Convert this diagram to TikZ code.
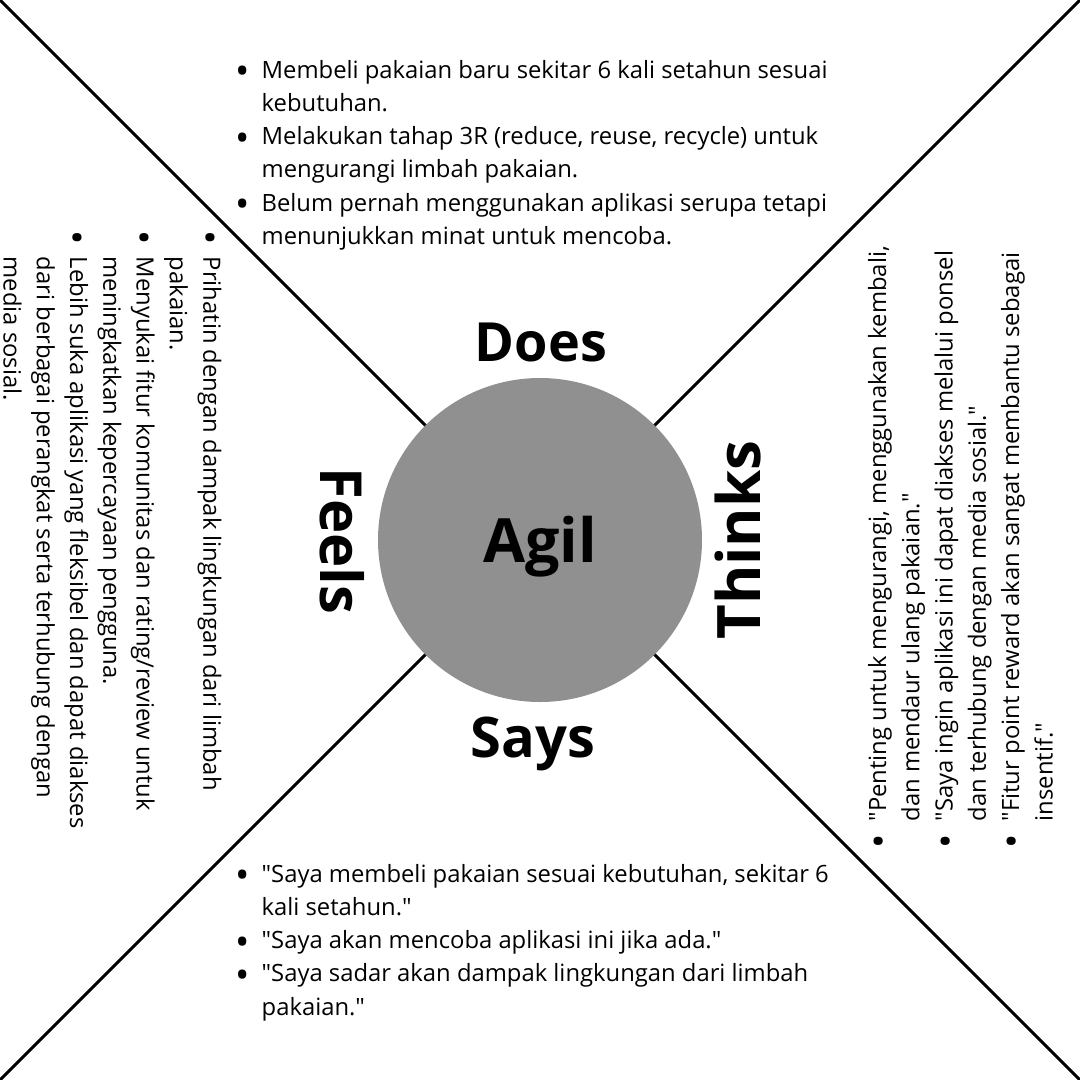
\documentclass[tikz,border=0pt]{standalone}
\usepackage{fontspec}
\setmainfont{Open Sans}[Ligatures=TeXOff]
\usetikzlibrary{backgrounds}
\definecolor{agilgray}{HTML}{909090}
\newcommand{\bul}{\makebox[24pt][l]{\hspace*{-2.7pt}\raisebox{-6.6pt}{\scalebox{1.6}{•}}}}
\newcommand{\ind}{\hspace*{24pt}}
\tikzset{
  diag/.style={line width=3pt, black},
  quad/.style={font=\bfseries\fontsize{#1}{#1}\selectfont, inner sep=0pt, anchor=base},
  notes/.style={font=\fontsize{23.8}{33.3}\selectfont, align=left, inner sep=0pt, anchor=base west}
}
\begin{document}
\begin{tikzpicture}[x=1pt, y=-1pt]
  % empathy map, Agil
    \useasboundingbox (0,0) rectangle (1080,1080);
    \coordinate (tl) at (0,0);
    \coordinate (tr) at (1080,0);
    \coordinate (bl) at (0,1080);
    \coordinate (br) at (1080,1080);
    \node[circle, fill=agilgray, minimum size=324pt, inner sep=0pt] (agil) at (540,540) {};
    \begin{scope}[on background layer]
      \draw[diag] (tl) -- (agil.center);
      \draw[diag] (tr) -- (agil.center);
      \draw[diag] (bl) -- (agil.center);
      \draw[diag] (br) -- (agil.center);
    \end{scope}
    \node[quad=61] (name) at (540,562) {Agil};

    \node[quad=54] (does) at (541,361) {Does};
    \node[quad=56] (says) at (533,757) {Says};
    \node[quad=58, rotate=-90] (feels) at (320,541) {Feels};
    \node[quad=60, rotate=90] (thinks) at (760,540) {Thinks};

    % base west is the baseline of the last line
    \node[notes] (doesnotes) at (237.5,244.5) {%
      \bul Membeli pakaian baru sekitar 6 kali setahun sesuai\\
      \ind kebutuhan.\\
      \bul Melakukan tahap 3R (reduce, reuse, recycle) untuk\\
      \ind mengurangi limbah pakaian.\\
      \bul Belum pernah menggunakan aplikasi serupa tetapi\\
      \ind menunjukkan minat untuk mencoba.};
    \node[notes] (saysnotes) at (237.5,1015.2) {%
      \bul "Saya membeli pakaian sesuai kebutuhan, sekitar 6\\
      \ind kali setahun."\\
      \bul "Saya akan mencoba aplikasi ini jika ada."\\
      \bul "Saya sadar akan dampak lingkungan dari limbah\\
      \ind pakaian."};
    \node[notes, rotate=-90] (feelsnotes) at (3.5,232.5) {%
      \bul Prihatin dengan dampak lingkungan dari limbah\\
      \ind pakaian.\\
      \bul Menyukai fitur komunitas dan rating/review untuk\\
      \ind meningkatkan kepercayaan pengguna.\\
      \bul Lebih suka aplikasi yang fleksibel dan dapat diakses\\
      \ind dari berbagai perangkat serta terhubung dengan\\
      \ind media sosial.};
    \node[notes, rotate=90] (thinksnotes) at (1052.5,845.5) {%
      \bul "Penting untuk mengurangi, menggunakan kembali,\\
      \ind dan mendaur ulang pakaian."\\
      \bul "Saya ingin aplikasi ini dapat diakses melalui ponsel\\
      \ind dan terhubung dengan media sosial."\\
      \bul "Fitur point reward akan sangat membantu sebagai\\
      \ind insentif."};
  \end{tikzpicture}
\end{document}
